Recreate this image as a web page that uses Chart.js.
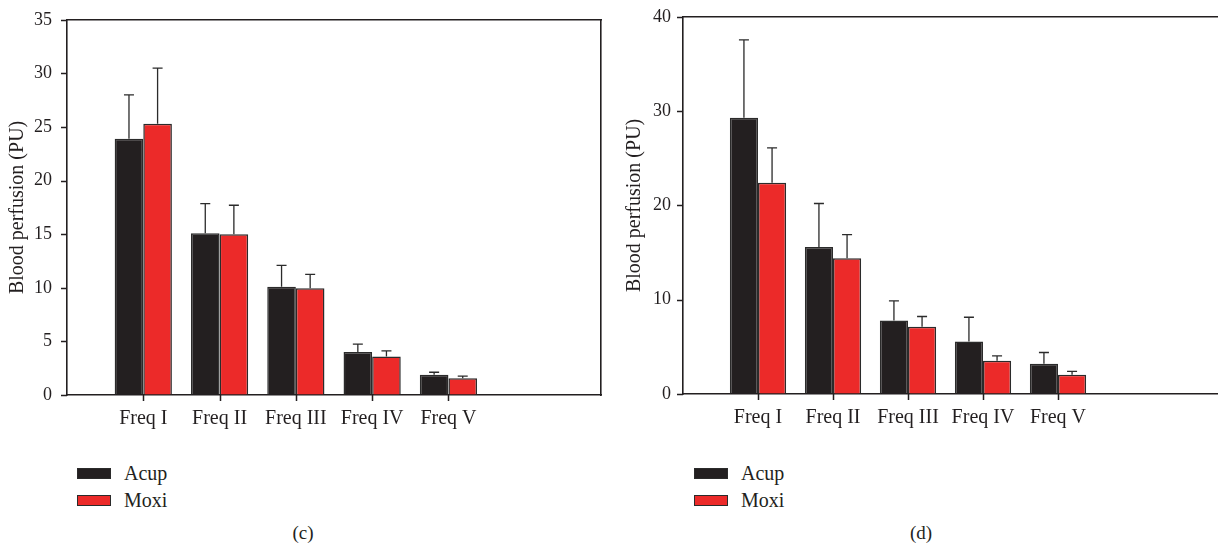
<!DOCTYPE html>
<html>
<head>
<meta charset="utf-8">
<script src="https://cdn.jsdelivr.net/npm/chart.js@4/dist/chart.umd.min.js"></script>
<style>
    html, body { margin: 0; padding: 0; background: #fff; overflow: hidden; width: 1218px; height: 550px; }
    body { position: relative; font-family: 'Liberation Serif', 'DejaVu Serif', serif; color: #231f20; }
    canvas { position: absolute; top: 0; }
    #chartC { left: 0; }
    #chartD { left: 610px; }
    .legend { position: absolute; top: 460px; font-size: 20px; line-height: 27px; }
    .legend div { display: flex; align-items: center; }
    .legend span.box { display: inline-block; width: 32px; height: 9px; border: 1.5px solid #2b2b2b; margin-right: 13px; }
    .caption { position: absolute; top: 522px; font-size: 19px; transform: translateX(-50%); }
</style>
</head>
<body>
<canvas id="chartC" width="610" height="440"></canvas>
<canvas id="chartD" width="680" height="440"></canvas>
<div class="legend" id="legendC" style="left:77px"></div>
<div class="legend" id="legendD" style="left:694px"></div>
<div class="caption" style="left:303px">(c)</div>
<div class="caption" style="left:921px">(d)</div>

<script>
// Kategorien (leere Slots als Rand links/rechts)
const labelsC = ['', 'Freq I', 'Freq II', 'Freq III', 'Freq IV', 'Freq V', '', ''];
const labelsD = ['', 'Freq I', 'Freq II', 'Freq III', 'Freq IV', 'Freq V', '', '', ''];

// Panel (c)
const acupC = [null, 23.9, 15.1, 10.1, 4.0, 1.9, null, null];
const acupErrC = [null, 4.1, 2.75, 2.0, 0.74, 0.22, null, null];
const moxiC = [null, 25.3, 15.0, 9.95, 3.6, 1.57, null, null];
const moxiErrC = [null, 5.2, 2.7, 1.3, 0.52, 0.19, null, null];

// Panel (d)
const acupD = [null, 29.3, 15.6, 7.8, 5.57, 3.2, null, null, null];
const acupErrD = [null, 8.25, 4.6, 2.08, 2.57, 1.2, null, null, null];
const moxiD = [null, 22.4, 14.4, 7.12, 3.52, 2.04, null, null, null];
const moxiErrD = [null, 3.7, 2.5, 1.1, 0.53, 0.36, null, null, null];

const ticksC = [0, 5, 10, 15, 20, 25, 30, 35];
const ticksD = [0, 10, 20, 30, 40];

const acupColor = '#231f20';
const moxiColor = '#ec2a29';
const lineColor = '#231f20';
const fontFamily = "'Liberation Serif', 'DejaVu Serif', serif";

// Fehlerbalken nur nach oben, mit Querstrich
const errorBarPlugin = {
    id: 'errorBars',
    afterDatasetsDraw(chart) {
        const ctx = chart.ctx;
        const yScale = chart.scales.y;
        ctx.save();
        ctx.strokeStyle = '#2b2b2b';
        ctx.lineWidth = 1.3;
        chart.data.datasets.forEach((ds, i) => {
            const meta = chart.getDatasetMeta(i);
            meta.data.forEach((bar, j) => {
                const v = ds.data[j];
                const e = ds.errors[j];
                if (v == null || e == null) return;
                const yTop = yScale.getPixelForValue(v + e);
                ctx.beginPath();
                ctx.moveTo(bar.x, bar.y);
                ctx.lineTo(bar.x, yTop);
                ctx.moveTo(bar.x - 5, yTop);
                ctx.lineTo(bar.x + 5, yTop);
                ctx.stroke();
            });
        });
        ctx.restore();
    }
};

// Tickstriche außen an den Achsen
const tickMarkPlugin = {
    id: 'tickMarks',
    afterDraw(chart) {
        const ctx = chart.ctx;
        const xScale = chart.scales.x;
        const yScale = chart.scales.y;
        ctx.save();
        ctx.strokeStyle = lineColor;
        ctx.lineWidth = 1.5;
        ctx.beginPath();
        xScale.ticks.forEach((t, i) => {
            if (!chart.data.labels[i]) return;
            const px = Math.round(xScale.getPixelForTick(i)) + 0.5;
            ctx.moveTo(px, xScale.top);
            ctx.lineTo(px, xScale.top + 6);
        });
        yScale.ticks.forEach((t, i) => {
            const py = Math.round(yScale.getPixelForTick(i)) + 0.5;
            ctx.moveTo(yScale.right - 6, py);
            ctx.lineTo(yScale.right, py);
        });
        ctx.stroke();
        ctx.restore();
    }
};

function makeChart(id, labels, acup, acupErr, moxi, moxiErr, yTicks, opts) {
    const ctx = document.getElementById(id).getContext('2d');
    return new Chart(ctx, {
        type: 'bar',
        data: {
            labels: labels,
            datasets: [{
                label: 'Acup',
                data: acup,
                errors: acupErr,
                backgroundColor: acupColor,
                borderColor: '#2b2b2b',
                borderWidth: 1.5,
                borderSkipped: 'bottom'
            }, {
                label: 'Moxi',
                data: moxi,
                errors: moxiErr,
                backgroundColor: moxiColor,
                borderColor: '#2b2b2b',
                borderWidth: 1.5,
                borderSkipped: 'bottom'
            }]
        },
        options: {
            responsive: false,
            animation: false,
            events: [],
            categoryPercentage: 0.75,
            barPercentage: 1.0,
            layout: { padding: { top: opts.top, right: opts.right, left: 0, bottom: 0 } },
            plugins: {
                legend: { display: false },
                tooltip: { enabled: false }
            },
            scales: {
                x: {
                    type: 'category',
                    position: 'bottom',
                    offset: false,
                    grid: {
                        offset: false,
                        drawOnChartArea: false,
                        tickLength: 6,
                        tickColor: 'rgba(0,0,0,0)'
                    },
                    border: { color: lineColor, width: 1.6 },
                    ticks: {
                        color: '#231f20',
                        font: { family: fontFamily, size: 20 },
                        padding: 6,
                        maxRotation: 0,
                        autoSkip: false
                    },
                    afterFit: (s) => { s.height = opts.bottom; }
                },
                xTop: {
                    type: 'category',
                    position: 'top',
                    grid: { display: false },
                    ticks: { display: false },
                    border: { color: lineColor, width: 1.6 },
                    afterFit: (s) => { s.height = 0; }
                },
                y: {
                    min: 0,
                    max: yTicks[yTicks.length - 1],
                    afterBuildTicks: (s) => { s.ticks = yTicks.map(v => ({ value: v })); },
                    grid: {
                        drawOnChartArea: false,
                        tickLength: 6,
                        tickColor: 'rgba(0,0,0,0)'
                    },
                    border: { color: lineColor, width: 1.6 },
                    ticks: {
                        color: '#231f20',
                        font: { family: fontFamily, size: 18 },
                        padding: opts.tickPad
                    },
                    title: {
                        display: true,
                        text: 'Blood perfusion (PU)',
                        color: '#231f20',
                        font: { family: fontFamily, size: 20 },
                        padding: { top: opts.titlePad, bottom: 0 }
                    },
                    afterFit: (s) => { s.width = opts.yWidth; }
                },
                yRight: {
                    display: opts.rightBorder,
                    position: 'right',
                    grid: { display: false },
                    ticks: { display: false },
                    border: { color: lineColor, width: 1.6 },
                    afterFit: (s) => { s.width = 0; }
                }
            }
        },
        plugins: [errorBarPlugin, tickMarkPlugin]
    });
}

function buildLegend(chart, el) {
    chart.data.datasets.forEach(ds => {
        const row = document.createElement('div');
        const box = document.createElement('span');
        box.className = 'box';
        box.style.background = ds.backgroundColor;
        row.appendChild(box);
        row.appendChild(document.createTextNode(ds.label));
        el.appendChild(row);
    });
}

const chartC = makeChart('chartC', labelsC, acupC, acupErrC, moxiC, moxiErrC, ticksC,
    { top: 17, right: 9, bottom: 45, yWidth: 67, tickPad: 9, titlePad: 6, rightBorder: true });
const chartD = makeChart('chartD', labelsD, acupD, acupErrD, moxiD, moxiErrD, ticksD,
    { top: 16, right: 7, bottom: 46, yWidth: 73, tickPad: 6, titlePad: 13, rightBorder: false });

buildLegend(chartC, document.getElementById('legendC'));
buildLegend(chartD, document.getElementById('legendD'));
</script>
</body>
</html>
